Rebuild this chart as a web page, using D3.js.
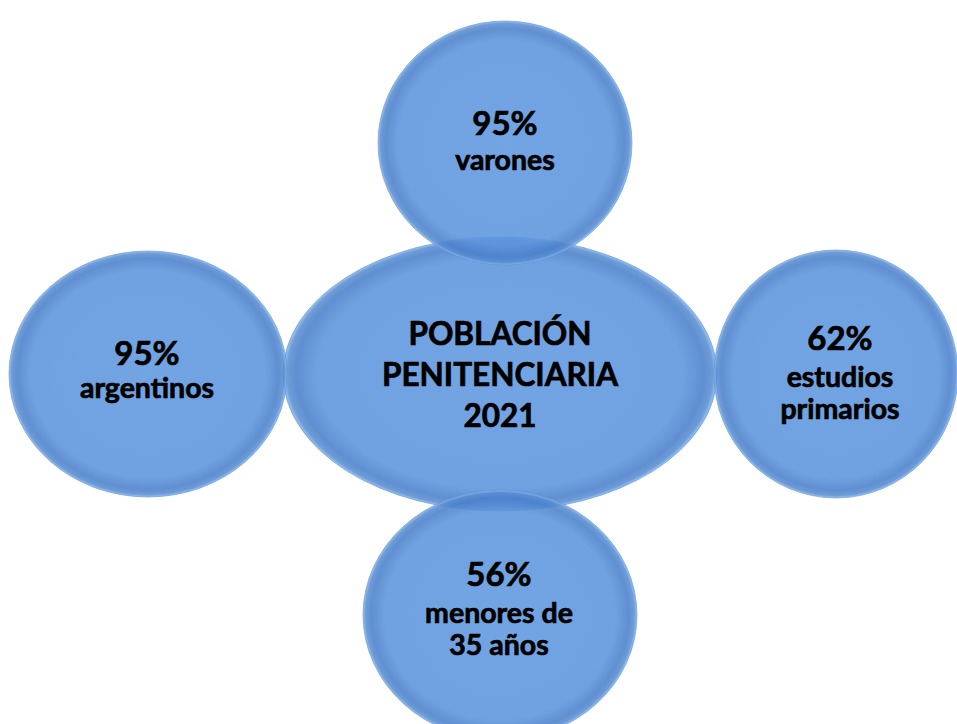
<!DOCTYPE html>
<html>
<head>
<meta charset="utf-8">
<script src="https://cdn.jsdelivr.net/npm/d3@7"></script>
<style>
  html, body { margin: 0; padding: 0; background: #fff; }
  svg { display: block; }
</style>
</head>
<body>
<svg id="chart"></svg>
<script>
// data
const centerLines = ["POBLACIÓN", "PENITENCIARIA", "2021"];
const positions = ["top", "right", "bottom", "left"];
const percents = ["95%", "62%", "56%", "95%"];
const labels = [["varones"], ["estudios", "primarios"], ["menores de", "35 años"], ["argentinos"]];

const width = 957, height = 724;

// layout: column / row scales for the bubbles
const col = d3.scaleOrdinal().domain(["left", "mid", "right"]).range([148, 500, 836]);
const row = d3.scaleOrdinal().domain(["top", "mid", "bottom"]).range([143, 374, 615]);
const place = {
  top: ["mid", "top"], right: ["right", "mid"], bottom: ["mid", "bottom"], left: ["left", "mid"]
};
const radius = { top: [127, 122], right: [122, 124], bottom: [137, 125], left: [139, 123] };
// baselines of each text line (percent first, then label lines)
const lineY = { top: [135, 170], right: [350, 387, 419], bottom: [586, 623, 655], left: [365, 398] };
const textX = { top: 505, right: 840, bottom: 499, left: 147 };

const svg = d3.select("#chart")
  .attr("width", width)
  .attr("height", height)
  .attr("viewBox", [0, 0, width, height]);

const defs = svg.append("defs");
const grad = defs.append("radialGradient").attr("id", "bub");
[[0, "#5f98e0"], [0.84, "#5c94dc"], [0.94, "#4a80cb"], [0.98, "#5a8ed2"], [1, "#8ebdf2"]]
  .forEach(([o, c]) => grad.append("stop").attr("offset", o).attr("stop-color", c));

const font = "Lato, 'Open Sans', sans-serif";

// central ellipse
svg.append("ellipse")
  .attr("cx", col("mid"))
  .attr("cy", row("mid"))
  .attr("rx", 217)
  .attr("ry", 137)
  .attr("fill", "url(#bub)")
  .attr("fill-opacity", 0.88)
  .attr("stroke", "#5a8fd0")
  .attr("stroke-opacity", 0.6);

// satellites
const nodes = positions.map((p, i) => ({ pos: p, pct: percents[i], label: labels[i] }));

svg.append("g").selectAll("ellipse")
  .data(nodes)
  .join("ellipse")
  .attr("cx", (d) => col(place[d.pos][0]) + (d.pos === "top" ? 5 : 0))
  .attr("cy", (d) => row(place[d.pos][1]))
  .attr("rx", (d) => radius[d.pos][0])
  .attr("ry", (d) => radius[d.pos][1])
  .attr("fill", "url(#bub)")
  .attr("fill-opacity", 0.88)
  .attr("stroke", "#5a8fd0")
  .attr("stroke-opacity", 0.6);

const txt = svg.append("g")
  .attr("font-family", font)
  .attr("font-weight", "bold")
  .attr("fill", "#000")
  .attr("stroke", "#000")
  .attr("stroke-width", 0.7)
  .attr("text-anchor", "middle");

txt.selectAll("text.center")
  .data(centerLines)
  .join("text")
  .attr("class", "center")
  .attr("x", col("mid"))
  .attr("y", (d, i) => 345 + i * 41)
  .attr("font-size", 31.5)
  .text((d) => d);

nodes.forEach((d) => {
  const ys = lineY[d.pos];
  txt.append("text")
    .attr("x", textX[d.pos])
    .attr("y", ys[0])
    .attr("font-size", 33)
    .text(d.pct);
  d.label.forEach((l, j) => {
    txt.append("text")
      .attr("x", textX[d.pos])
      .attr("y", ys[j + 1])
      .attr("font-size", 28.5)
      .text(l);
  });
});
</script>
</body>
</html>
